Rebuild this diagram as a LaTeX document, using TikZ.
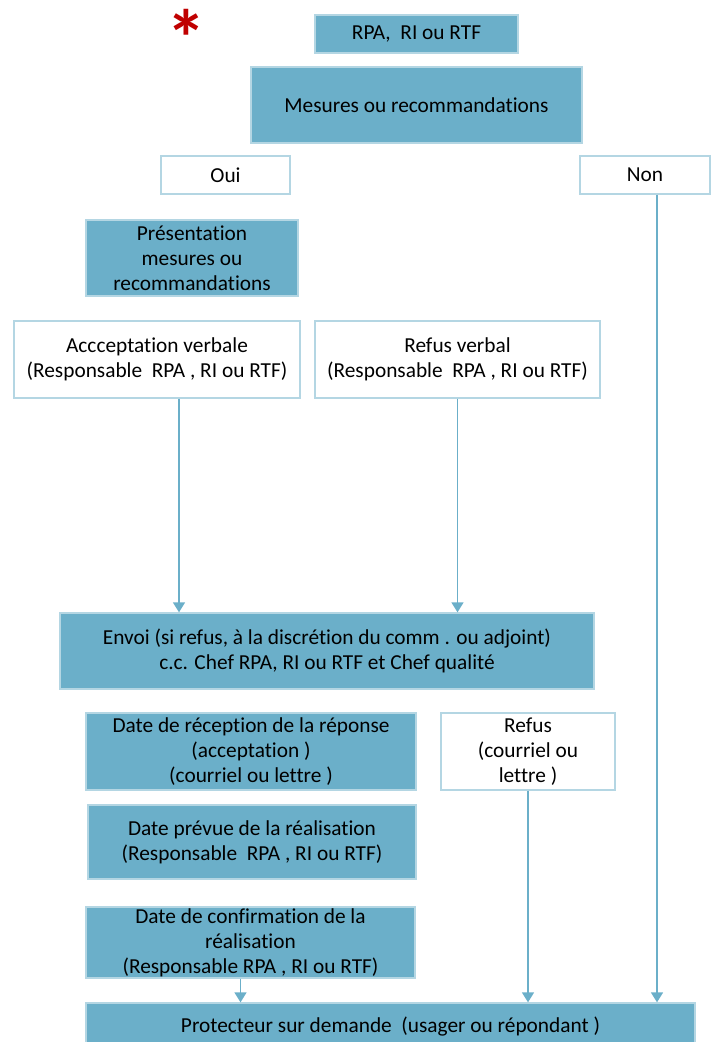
\documentclass[tikz,border=0pt]{standalone}
\usepackage{fontspec}
\setmainfont{Carlito}[Ligatures=NoCommon]
\usetikzlibrary{calc, positioning, arrows.meta}
\definecolor{boxfill}{HTML}{6BAFC9}
\definecolor{boxline}{HTML}{B4D6E3}
\definecolor{arrline}{HTML}{6BAFC9}
\definecolor{starred}{HTML}{C00000}

\begin{document}
\begin{tikzpicture}[x=0.75pt, y=-0.75pt]

    \useasboundingbox (0,0) rectangle (711,1042); % page size in px, y going down

    \node (star) at (186,38) [text=starred, font=\fontsize{60}{60}\selectfont\bfseries, inner sep=0pt] {*};

    % every box: light outline, centred text; bl = filled boxes, wh = white ones
    \begin{scope}[every node/.style={draw=boxline, line width=1pt, align=center, inner sep=1pt,
                                     font=\fontsize{16}{18.75}\selectfont},
                  bl/.style={fill=boxfill},
                  wh/.style={fill=white},
                  bxsize/.style 2 args={minimum width=#1*0.75pt, minimum height=#2*0.75pt}]

    \node [bl, bxsize={203}{38}] (rpa)   at (416.5,34)  {RPA,\ \ RI ou RTF};
    \node [bl, bxsize={331}{76}] (mes)   at (416.5,105) {Mesures ou recommandations};
    \node [wh, bxsize={129}{38}] (oui)   at (225.5,175) {Oui};
    \node [wh, bxsize={130}{38}] (non)   at (645,175)   {Non};
    \node [bl, bxsize={212}{76}] (pres)  at (192,258)   {Présentation\\mesures ou\\recommandations};
    \node [wh, bxsize={286}{77}] (acc)   at (157,359.5) {Accceptation verbale\\(Responsable\ \ RPA , RI ou RTF)};
    \node [wh, bxsize={285}{77}] (refv)  at (457.5,359.5) {Refus verbal\\(Responsable\ \ RPA , RI ou RTF)};
    \node [bl, bxsize={534}{76}] (envoi) at (327,651)   {Envoi (si refus, à la discrétion du comm . ou adjoint)\\c.c. Chef RPA, RI ou RTF et Chef qualité};
    \node [bl, bxsize={330}{77}] (dater) at (251,751.5) {Date de réception de la réponse\\(acceptation )\\(courriel ou lettre )};
    \node [wh, bxsize={174}{77}] (refus) at (528,751.5) {Refus\\(courriel ou\\lettre )};
    \node [bl, bxsize={328}{74}] (datep) at (252,842)   {Date prévue de la réalisation\\(Responsable\ \ RPA , RI ou RTF)};
    \node [bl, bxsize={329}{71}] (datec) at (250.5,942.5) {Date de confirmation de la\\réalisation\\(Responsable RPA , RI ou RTF)};
    \node [bl, bxsize={609}{48}] (prot)  at (390.5,1027) {Protecteur sur demande\ \ (usager ou répondant )};

    \end{scope}

    % connectors, thin with a small filled head
    \begin{scope}[every path/.style={draw=arrline, line width=1.2pt, -{Triangle[length=7.5pt, width=9pt]}}]

        \coordinate (a1) at ($(acc.south)+(22,0)$);
        \draw (a1) -- (a1 |- envoi.north);
        \draw (refv.south) -- (refv.south |- envoi.north);

        \coordinate (a2) at ($(datec.south)+(-10,0)$);
        \draw (a2) -- (a2 |- prot.north);
        \draw (refus.south) -- (refus.south |- prot.north);

        \coordinate (a3) at ($(non.south)+(12,0)$);
        \draw (a3) -- (a3 |- prot.north);

    \end{scope}

\end{tikzpicture}
\end{document}
